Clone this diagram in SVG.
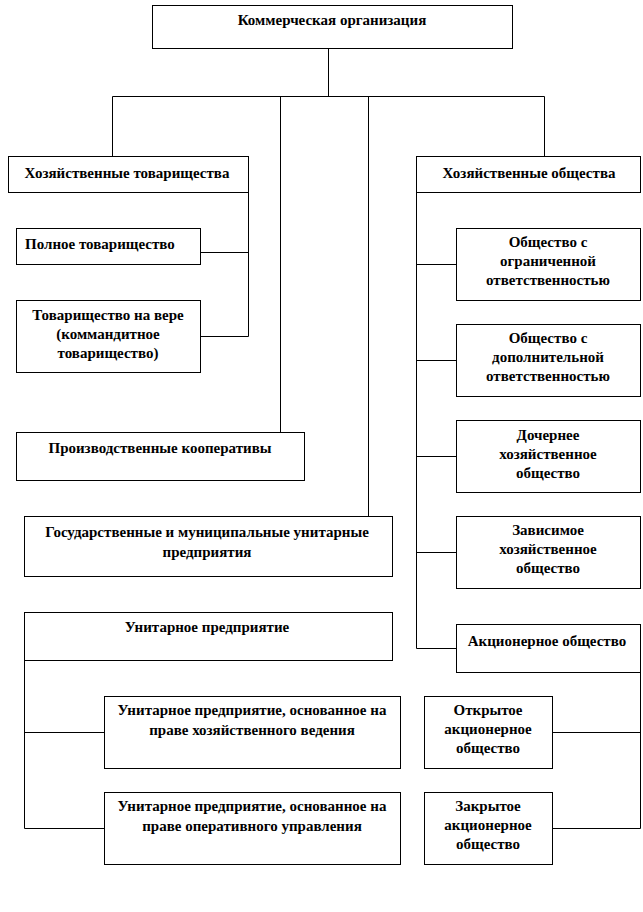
<svg xmlns="http://www.w3.org/2000/svg" width="643" height="912" viewBox="0 0 643 912">
<style>
rect{fill:#fff;stroke:#000;stroke-width:1}
.c line,.c polyline{stroke:#000;stroke-width:1;fill:none}
text{font-family:"Liberation Serif","Times New Roman",serif;font-weight:bold;font-size:15px;fill:#000}
.m{text-anchor:middle}
</style>
<rect x="0" y="0" width="643" height="912" style="stroke:none"/>
<g class="c" id="connectors">
<line x1="328.5" y1="48" x2="328.5" y2="96.5"/>
<line x1="112.5" y1="96.5" x2="544.5" y2="96.5"/>
<line x1="112.5" y1="96.5" x2="112.5" y2="156"/>
<line x1="280.5" y1="96.5" x2="280.5" y2="432"/>
<line x1="368.5" y1="96.5" x2="368.5" y2="516"/>
<line x1="544.5" y1="96.5" x2="544.5" y2="156"/>
<line x1="248.5" y1="192" x2="248.5" y2="336.5"/>
<line x1="200" y1="252.5" x2="248.5" y2="252.5"/>
<line x1="200" y1="336.5" x2="248.5" y2="336.5"/>
<line x1="416.5" y1="192" x2="416.5" y2="648.5"/>
<line x1="416.5" y1="264.5" x2="456" y2="264.5"/>
<line x1="416.5" y1="360.5" x2="456" y2="360.5"/>
<line x1="416.5" y1="456.5" x2="456" y2="456.5"/>
<line x1="416.5" y1="552.5" x2="456" y2="552.5"/>
<line x1="416.5" y1="648.5" x2="456" y2="648.5"/>
<line x1="640.5" y1="672" x2="640.5" y2="828.5"/>
<line x1="552" y1="732.5" x2="640.5" y2="732.5"/>
<line x1="552" y1="828.5" x2="640.5" y2="828.5"/>
<line x1="24.5" y1="660" x2="24.5" y2="828.5"/>
<line x1="24.5" y1="732.5" x2="104" y2="732.5"/>
<line x1="24.5" y1="828.5" x2="104" y2="828.5"/>
</g>
<g id="n-commercial"><rect x="152.5" y="5.5" width="360" height="43"/><text class="m" x="332" y="25">Коммерческая организация</text></g>
<g id="n-tovarishchestva"><rect x="8.5" y="156.5" width="240" height="36"/><text class="m" x="127" y="178">Хозяйственные товарищества</text></g>
<g id="n-obshchestva"><rect x="416.5" y="156.5" width="224" height="36"/><text class="m" x="529" y="178">Хозяйственные общества</text></g>
<g id="n-polnoe"><rect x="16.5" y="228.5" width="184" height="36"/><text x="25" y="249">Полное товарищество</text></g>
<g id="n-vera"><rect x="16.5" y="300.5" width="184" height="72"/><text class="m" x="108" y="320">Товарищество на вере</text><text class="m" x="108" y="339">(коммандитное</text><text class="m" x="108" y="358">товарищество)</text></g>
<g id="n-koop"><rect x="16.5" y="432.5" width="288" height="48"/><text class="m" x="160" y="453">Производственные кооперативы</text></g>
<g id="n-gos"><rect x="24.5" y="516.5" width="368" height="60"/><text class="m" x="207" y="537">Государственные и муниципальные унитарные</text><text class="m" x="207" y="557">предприятия</text></g>
<g id="n-unitar"><rect x="24.5" y="612.5" width="368" height="48"/><text class="m" x="207" y="632">Унитарное предприятие</text></g>
<g id="n-unitar-hoz"><rect x="104.5" y="696.5" width="296" height="72"/><text class="m" x="252" y="715">Унитарное предприятие, основанное на</text><text class="m" x="252" y="735">праве хозяйственного ведения</text></g>
<g id="n-unitar-oper"><rect x="104.5" y="792.5" width="296" height="72"/><text class="m" x="252" y="811">Унитарное предприятие, основанное на</text><text class="m" x="252" y="831">праве оперативного управления</text></g>
<g id="n-ooo"><rect x="456.5" y="228.5" width="184" height="72"/><text class="m" x="548" y="247">Общество с</text><text class="m" x="548" y="266">ограниченной</text><text class="m" x="548" y="285">ответственностью</text></g>
<g id="n-odo"><rect x="456.5" y="324.5" width="184" height="72"/><text class="m" x="548" y="343">Общество с</text><text class="m" x="548" y="362">дополнительной</text><text class="m" x="548" y="381">ответственностью</text></g>
<g id="n-doch"><rect x="456.5" y="420.5" width="184" height="72"/><text class="m" x="548" y="440">Дочернее</text><text class="m" x="548" y="459">хозяйственное</text><text class="m" x="548" y="478">общество</text></g>
<g id="n-zavis"><rect x="456.5" y="516.5" width="184" height="72"/><text class="m" x="548" y="535">Зависимое</text><text class="m" x="548" y="554">хозяйственное</text><text class="m" x="548" y="573">общество</text></g>
<g id="n-ao"><rect x="456.5" y="624.5" width="184" height="48"/><text class="m" x="547" y="646">Акционерное общество</text></g>
<g id="n-oao"><rect x="424.5" y="696.5" width="128" height="72"/><text class="m" x="488" y="715">Открытое</text><text class="m" x="488" y="734">акционерное</text><text class="m" x="488" y="753">общество</text></g>
<g id="n-zao"><rect x="424.5" y="792.5" width="128" height="72"/><text class="m" x="488" y="811">Закрытое</text><text class="m" x="488" y="830">акционерное</text><text class="m" x="488" y="849">общество</text></g>
</svg>
